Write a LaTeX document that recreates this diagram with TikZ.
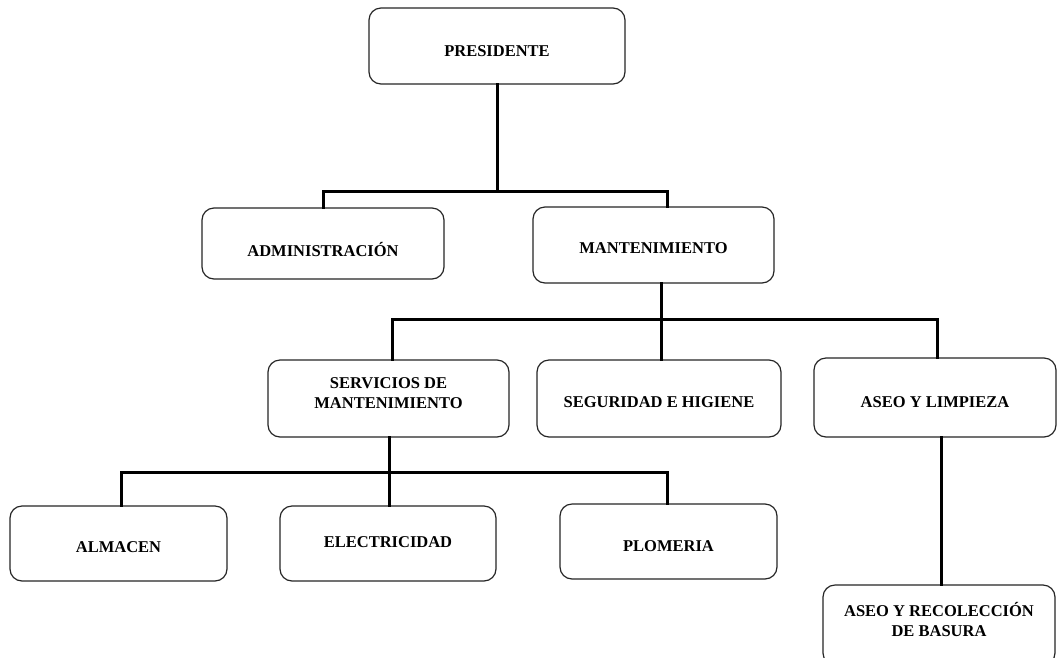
\documentclass[tikz,border=0pt]{standalone}
\usepackage{fontspec}
\setmainfont{Liberation Serif}
\begin{document}
\begin{tikzpicture}[x=1pt,y=-1pt,
  box/.style={draw=black!85, line width=1.2pt, rounded corners=12pt, fill=white, inner sep=0pt},
  lbl/.style={font=\fontsize{16.5}{20}\selectfont\bfseries, align=center, inner sep=0pt, text=black},
  conn/.style={line width=3pt, line cap=rect, black}]
\useasboundingbox (0,0) rectangle (1058,657);
\clip (0,0) rectangle (1058,657);
\fill[white] (0,0) rectangle (1058,657);

% boxes
\node[box, minimum width=256pt, minimum height=76pt, label={[lbl, yshift=-5pt]center:PRESIDENTE}] (pres) at (497,46) {};
\node[box, minimum width=242pt, minimum height=71pt, label={[lbl, yshift=-6pt]center:ADMINISTRACIÓN}] (adm) at (323,243.5) {};
\node[box, minimum width=241pt, minimum height=76pt, label={[lbl, yshift=-3pt]center:MANTENIMIENTO}] (mant) at (653.5,245) {};
\node[box, minimum width=241pt, minimum height=77pt, label={[lbl, yshift=5pt]center:SERVICIOS DE\\MANTENIMIENTO}] (serv) at (388.5,398.5) {};
\node[box, minimum width=244pt, minimum height=77pt, label={[lbl, yshift=-4pt]center:SEGURIDAD E HIGIENE}] (seg) at (659,398.5) {};
\node[box, minimum width=242pt, minimum height=79pt, label={[lbl, yshift=-5pt]center:ASEO Y LIMPIEZA}] (aseo) at (935,397.5) {};
\node[box, minimum width=217pt, minimum height=75pt, label={[lbl, yshift=-4pt]center:ALMACEN}] (alm) at (118.5,543.5) {};
\node[box, minimum width=216pt, minimum height=75pt, label={[lbl, yshift=1pt]center:ELECTRICIDAD}] (elec) at (388,543.5) {};
\node[box, minimum width=217pt, minimum height=75pt, label={[lbl, yshift=-5pt]center:PLOMERIA}] (plom) at (668.5,541.5) {};
\node[box, minimum width=232pt, minimum height=80pt, label={[lbl, yshift=6pt]center:ASEO Y RECOLECCIÓN\\DE BASURA}] (rec) at (939,625) {};

% junction coordinates
\coordinate (b1) at (497,191);
\coordinate (b1l) at (323,191);
\coordinate (b1r) at (667,191);
\coordinate (b2) at (661,319);
\coordinate (b2l) at (392,319);
\coordinate (b2r) at (937,319);
\coordinate (b3) at (389,472);
\coordinate (b3l) at (121,472);
\coordinate (b3r) at (667,472);

% level 1
\draw[conn] (pres.south) -- (b1);
\draw[conn] (adm.north) -- (b1l) -- (b1r) -- (b1r |- mant.north);
% level 2
\draw[conn] (b2 |- mant.south) -- (b2);
\draw[conn] (b2l |- serv.north) -- (b2l) -- (b2r) -- (b2r |- aseo.north);
\draw[conn] (b2) -- (b2 |- seg.north);
% level 3
\draw[conn] (b3 |- serv.south) -- (b3);
\draw[conn] (b3l |- alm.north) -- (b3l) -- (b3r) -- (b3r |- plom.north);
\draw[conn] (b3) -- (b3 |- elec.north);
% aseo -> recoleccion
\coordinate (v4) at (941,437);
\draw[conn] (v4 |- aseo.south) -- (v4 |- rec.north);
\end{tikzpicture}
\end{document}
